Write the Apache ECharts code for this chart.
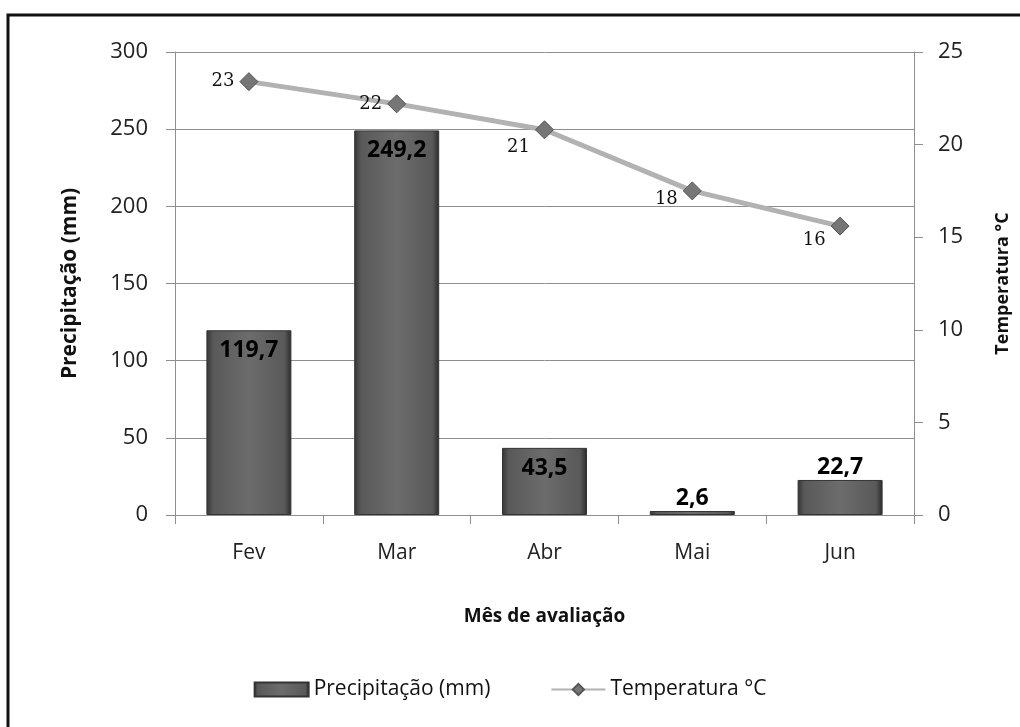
<!DOCTYPE html>
<html>
<head>
<meta charset="utf-8">
<script src="https://cdn.jsdelivr.net/npm/echarts@6/dist/echarts.min.js"></script>
<style>
  html, body { margin: 0; padding: 0; background: #fff; }
  #chart { width: 1020px; height: 727px; }
</style>
</head>
<body>
<div id="chart"></div>
<script>
const months = ['Fev', 'Mar', 'Abr', 'Mai', 'Jun']
const precipitation = [119.7, 249.2, 43.5, 2.6, 22.7]
const temperature = [23.4, 22.2, 20.8, 17.5, 15.6]
const precipTicks = { min: 0, max: 300, interval: 50 }
const tempTicks = { min: 0, max: 25, interval: 5 }

const font = '"Open Sans", "Noto Sans", sans-serif'
const gridGray = '#8e8e8e'
// per-point label nudges for the temperature line
const tempLabelOffsets = [[0, 0], [0, 0], [0, 18], [0, 8], [0, 14]]

const barFill = new echarts.graphic.LinearGradient(0, 0, 1, 0, [
  { offset: 0, color: '#353535' },
  { offset: 0.08, color: '#595959' },
  { offset: 0.5, color: '#6c6c6c' },
  { offset: 0.92, color: '#595959' },
  { offset: 1, color: '#2a2a2a' },
])

const chart = echarts.init(document.getElementById('chart'), null, { renderer: 'canvas' })

chart.setOption({
  animation: false,
  backgroundColor: '#fff',
  textStyle: { fontFamily: font },
  graphic: [
    {
      type: 'rect',
      shape: { x: 8, y: 15, width: 1100, height: 800 },
      style: { fill: 'none', stroke: '#111', lineWidth: 3 },
      silent: true,
    },
  ],
  grid: { left: 175, right: 104, top: 52, bottom: 212 },
  legend: {
    bottom: 22,
    left: 'center',
    itemGap: 60,
    itemWidth: 54,
    itemHeight: 14,
    textStyle: { color: '#111', fontSize: 21, fontFamily: font },
    data: [
      { name: 'Precipitação (mm)', icon: 'rect' },
      { name: 'Temperatura °C' },
    ],
  },
  xAxis: {
    type: 'category',
    data: months,
    name: 'Mês de avaliação',
    nameLocation: 'middle',
    nameGap: 92,
    nameTextStyle: { color: '#111', fontSize: 19, fontWeight: 'bold' },
    axisLine: { lineStyle: { color: gridGray } },
    axisTick: { show: true, length: 9, alignWithLabel: false, lineStyle: { color: gridGray } },
    axisLabel: { color: '#222', fontSize: 21, margin: 28 },
  },
  yAxis: [
    {
      type: 'value',
      ...precipTicks,
      name: 'Precipitação (mm)',
      nameLocation: 'middle',
      nameGap: 94,
      nameTextStyle: { color: '#111', fontSize: 21, fontWeight: 'bold' },
      axisLine: { show: true, lineStyle: { color: gridGray } },
      axisTick: { show: true, length: 9, lineStyle: { color: gridGray } },
      axisLabel: { color: '#222', fontSize: 22, margin: 27 },
      splitLine: { lineStyle: { color: gridGray, width: 1 } },
    },
    {
      type: 'value',
      ...tempTicks,
      position: 'right',
      name: 'Temperatura °C',
      nameLocation: 'middle',
      nameRotate: 90,
      nameGap: 80,
      nameTextStyle: { color: '#111', fontSize: 18, fontWeight: 'bold' },
      axisLine: { show: true, lineStyle: { color: gridGray } },
      axisTick: { show: true, length: 9, lineStyle: { color: gridGray } },
      axisLabel: { color: '#222', fontSize: 22, margin: 24 },
      splitLine: { show: false },
    },
  ],
  series: [
    {
      name: 'Precipitação (mm)',
      type: 'bar',
      barWidth: 85,
      yAxisIndex: 0,
      itemStyle: { color: barFill, borderColor: '#333', borderWidth: 1 },
      data: precipitation.map((v) => ({
        value: v,
        label: v > 30
          ? { position: 'insideTop', distance: 9 }
          : { position: 'top', distance: 1 },
      })),
      label: {
        show: true,
        color: '#000',
        fontSize: 23,
        fontWeight: 'bold',
        formatter: (p) => String(p.value).replace('.', ','),
      },
    },
    {
      name: 'Temperatura °C',
      type: 'line',
      yAxisIndex: 1,
      symbol: 'diamond',
      symbolSize: 18,
      lineStyle: { color: '#b2b2b2', width: 5 },
      itemStyle: { color: '#767676', borderColor: '#555', borderWidth: 1 },
      data: temperature.map((v, i) => ({
        value: v,
        label: { offset: tempLabelOffsets[i] },
      })),
      label: {
        show: true,
        position: 'left',
        distance: 5,
        color: '#111',
        fontSize: 18,
        fontFamily: '"DejaVu Serif", "Liberation Serif", serif',
        formatter: (p) => String(Math.round(p.value)),
      },
      z: 5,
    },
  ],
})
</script>
</body>
</html>
